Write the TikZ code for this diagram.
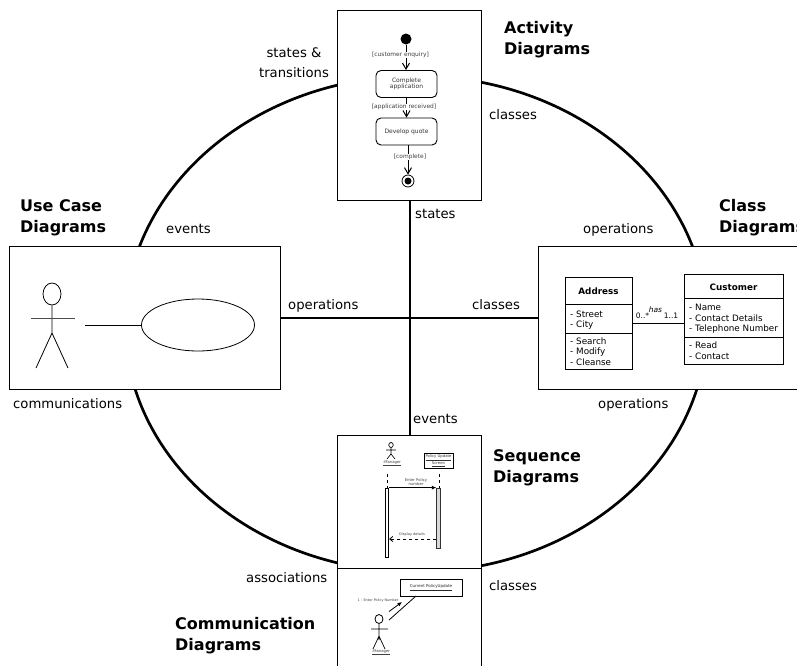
\documentclass[tikz,border=0pt]{standalone}
\usepackage{fontspec}
\setmainfont{DejaVu Sans}
\usetikzlibrary{arrows.meta,shapes.geometric}
\newcommand{\fs}[1]{\fontsize{#1}{#1}\selectfont}
\tikzset{
  x=1pt,y=-1pt,
  frame/.style={draw=black,fill=white,line width=1pt},
  thickline/.style={line width=2.7pt},
  lbl/.style={inner sep=0pt,font=\fs{13.2},anchor=west,align=left,text height=9.5pt,text depth=3pt,yshift=-1pt},
  head/.style={inner sep=0pt,font=\fs{16}\bfseries,anchor=west,align=left,yshift=-2pt},
  tiny/.style={inner sep=0pt,font=\fs{5.9},text=black!75,align=center},
  micro/.style={inner sep=0pt,font=\fs{3.8},text=black!75,align=center},
  umlbox/.style={draw=black,fill=white,line width=0.9pt},
  uml/.style={inner sep=0pt,font=\fs{8.8},anchor=west},
  thin1/.style={line width=0.8pt},
  openarrow/.style={-{Straight Barb[length=6pt,width=7pt]},line width=1pt},
  filledarrow/.style={-{Latex[length=4.5pt,width=4pt]},line width=0.8pt}
}
\begin{document}
\begin{tikzpicture}
\useasboundingbox (0,0) rectangle (797,665);
\fill[white] (0,0) rectangle (797,665);
% big ellipse and cross
\coordinate (cen) at (416,324);
\draw[thickline] (cen) ellipse [x radius=291,y radius=248];
% boxes
\node[frame,minimum width=144pt,minimum height=190pt,inner sep=0pt] (act) at (409.5,105) {};
\node[frame,minimum width=271pt,minimum height=143pt,inner sep=0pt] (uc) at (144.5,317.5) {};
\node[frame,minimum width=270pt,minimum height=143pt,inner sep=0pt] (cls) at (673,317.5) {};
\node[frame,minimum width=144pt,minimum height=133pt,inner sep=0pt] (seq) at (409.5,501.5) {};
\node[frame,minimum width=144pt,minimum height=100pt,inner sep=0pt] (com) at (409.5,618) {};
\coordinate (mid) at (410,318);
\draw[thickline] (mid) -- (act.south -| mid);
\draw[thickline] (mid) -- (seq.north -| mid);
\draw[thickline] (mid) -- (uc.east |- mid);
\draw[thickline] (mid) -- (cls.west |- mid);
% labels
\node[head] (h1) at (504,38) {Activity\\[5pt]Diagrams};
\node[head] (h2) at (20,215.5) {Use Case\\[5pt]Diagrams};
\node[head] (h3) at (719,215.5) {Class\\[5pt]Diagrams};
\node[head] (h4) at (493,466) {Sequence\\[5pt]Diagrams};
\node[head] (h5) at (175,633.5) {Communication\\[5pt]Diagrams};
\node[inner sep=0pt,font=\fs{13.2},align=center] (l1) at (294,63) {states \&\\[7pt]transitions};
\node[lbl] (l2) at (489,115) {classes};
\node[lbl] (l3) at (166,229) {events};
\node[lbl] (l4) at (288,305) {operations};
\node[lbl] (l5) at (472,305) {classes};
\node[lbl] (l6) at (583,229) {operations};
\node[lbl] (l7) at (598,404) {operations};
\node[lbl] (l8) at (13,404) {communications};
\node[lbl] (l9) at (413,419) {events};
\node[lbl] (l10) at (415,214) {states};
\node[lbl] (l11) at (246,578) {associations};
\node[lbl] (l12) at (489,586) {classes};
% activity diagram
\node[circle,fill=black,minimum size=11pt,inner sep=0pt] (st) at (406,39) {};
\node[umlbox,rounded corners=5pt,minimum width=61pt,minimum height=27pt,inner sep=0pt,align=center,font=\fs{6},text=black!80] (a1) at (406.5,84) {Complete\\[0.5pt]application};
\node[umlbox,rounded corners=5pt,minimum width=61pt,minimum height=27pt,inner sep=0pt,font=\fs{6},text=black!80] (a2) at (406.5,131.5) {Develop quote};
\node[circle,draw=black,line width=0.8pt,minimum size=12pt,inner sep=0pt] (en) at (408,181) {};
\node[circle,fill=black,minimum size=7pt,inner sep=0pt] (en2) at (408,181) {};
\draw[openarrow] (st) -- (st |- a1.north);
\draw[openarrow] (a1.south) -- (a2.north);
\draw[openarrow] (a2.south -| en) -- (en);
\node[tiny,fill=white,inner xsep=0.5pt,inner ysep=0.5pt] (t1) at (400.5,55) {[customer enquiry]};
\node[tiny,fill=white,inner xsep=0.5pt,inner ysep=0.5pt] (t2) at (404,107) {[application received]};
\node[tiny,fill=white,inner xsep=0.5pt,inner ysep=0.5pt] (t3) at (410,157) {[complete]};
% class diagram
\node[umlbox,minimum width=67pt,minimum height=92pt,inner sep=0pt] (ad) at (598.5,323) {};
\draw[thin1] (565,304) -- (632,304) (565,333) -- (632,333);
\node[umlbox,minimum width=99pt,minimum height=90pt,inner sep=0pt] (cu) at (733.5,319) {};
\draw[thin1] (684,298) -- (783,298) (684,337) -- (783,337);
\draw[thin1] (ad.east |- 0,323) -- (cu.west |- 0,323);
\node[inner sep=0pt,font=\fs{8.8}\bfseries] (an) at (598.5,291) {Address};
\node[inner sep=0pt,font=\fs{8.8}\bfseries] (cn) at (733.5,287) {Customer};
\node[uml] (u1) at (570,314) {- Street};
\node[uml] (u2) at (570,325) {- City};
\node[uml] (u3) at (570,341) {- Search};
\node[uml] (u4) at (570,352) {- Modify};
\node[uml] (u5) at (570,362) {- Cleanse};
\node[uml] (u6) at (689,307) {- Name};
\node[uml] (u7) at (689,318) {- Contact Details};
\node[uml] (u8) at (689,329) {- Telephone Number};
\node[uml] (u9) at (689,345) {- Read};
\node[uml] (u10) at (689,356) {- Contact};
\node[inner sep=0pt,font=\fs{7.5}] (m1) at (642.5,316) {0..*};
\node[inner sep=0pt,font=\fs{7.5}\itshape] (m2) at (655.5,310) {has};
\node[inner sep=0pt,font=\fs{7.5}] (m3) at (671,316) {1..1};
% use case
\node[ellipse,draw=black,line width=0.8pt,minimum width=113pt,minimum height=52pt,inner sep=0pt] (uce) at (198,325) {};
\node[ellipse,draw=black,line width=0.8pt,minimum width=18pt,minimum height=22pt,inner sep=0pt] (hd) at (52,294) {};
\coordinate (hip) at (52,333);
\coordinate (ll) at (36,368);
\coordinate (lr) at (68,368);
\coordinate (assoc) at (85,325);
\draw[thin1] (hd) -- (hip) (ll) -- (hip) -- (lr);
\draw[line width=1pt,black!70] (31,318) -- (75,318);
\draw[thin1] (assoc) -- (uce.west);
% sequence
\node[ellipse,draw=black,line width=0.7pt,minimum width=4.5pt,minimum height=5pt,inner sep=0pt] (shd) at (391,445) {};
\draw[line width=0.6pt] (shd) -- (391,454) (387,459) -- (391,454) -- (395,459) (386,450) -- (396,450);
\node[micro] (sm) at (392,463) {\underline{:Manager}};
\node[umlbox,minimum width=29pt,minimum height=15pt,inner sep=0pt,align=center,font=\fs{3.8},text=black!80] (sp) at (438.5,461) {\underline{Policy Update}\\[0.5pt]\underline{Screen}};
\draw[line width=0.8pt,dashed] (387,474) -- (387,488);
\draw[line width=0.8pt,dashed] (439,474) -- (439,488);
\node[draw=black,fill=white,line width=0.8pt,minimum width=3.5pt,minimum height=69pt,inner sep=0pt] (al) at (387,522.5) {};
\node[draw=black!80,fill=black!15,line width=0.8pt,minimum width=3.5pt,minimum height=60pt,inner sep=0pt] (ar) at (438.5,518) {};
\draw[filledarrow] (al.north east) -- (ar.north west);
\draw[-{Straight Barb[length=3pt,width=5pt]},line width=0.8pt,dashed] (ar.west |- 0,539) -- (al.east |- 0,539);
\node[micro] (s1) at (416,482) {Enter Policy\\[0.3pt]number};
\node[micro,font=\fs{3.5}] (s2) at (412,535) {Display details};
% communication
\node[umlbox,minimum width=62pt,minimum height=17pt,inner sep=0pt,font=\fs{4},text=black!85] (cb) at (431,587.5) {\underline{Current PolicyUpdate}};
\coordinate (cl) at (389,620);
\coordinate (ca) at (389,611.5);
\coordinate (cb2) at (402,602);
\draw[thin1] (cl) -- (416,596);
\draw[filledarrow] (ca) -- (cb2);
\node[micro,font=\fs{3.4}] (c1) at (378,601) {1 : Enter Policy Number};
\node[ellipse,draw=black,line width=0.8pt,minimum width=8pt,minimum height=9pt,inner sep=0pt] (chd) at (379,619) {};
\draw[line width=0.7pt] (chd) -- (379,640) (373,649) -- (379,636) -- (385,649) (371,629) -- (388,629);
\node[micro] (cm) at (381,652) {\underline{:Manager}};
\end{tikzpicture}
\end{document}
